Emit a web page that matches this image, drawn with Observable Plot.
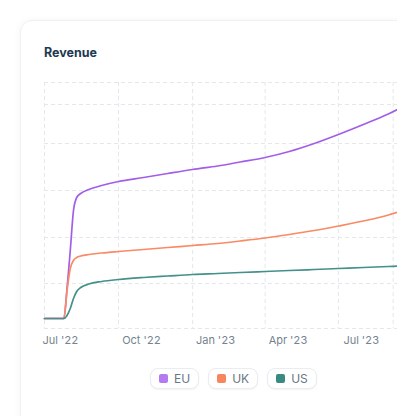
<!DOCTYPE html>
<html>
<head>
<meta charset="utf-8">
<script src="https://cdn.jsdelivr.net/npm/d3@7"></script>
<script src="https://cdn.jsdelivr.net/npm/@observablehq/plot@0.6"></script>
<style>
  html, body { margin: 0; padding: 0; background: #fff; overflow: hidden; width: 397px; height: 416px; }
  body { font-family: Inter, "Noto Sans", sans-serif; position: relative; }
  .card { position: absolute; left: 20px; top: 20px; width: 440px; height: 470px; background: #fff;
          border: 1px solid #f0f1f3; border-radius: 12px; box-shadow: 0 1px 8px rgba(0,0,0,0.05); }
  .title { position: absolute; left: 44px; top: 45px; font-size: 12.5px; font-weight: 700; color: #1e3a52; }
  #chart { position: absolute; left: 0; top: 70px; width: 440px; height: 288px; }
  #chart svg { max-width: none !important; }
  .legend { position: absolute; left: 150px; top: 368px; display: flex; gap: 9px; }
  .pill { height: 19px; display: flex; align-items: center; gap: 6px; padding: 0 8px; border: 1px solid #e9ecf0;
          border-radius: 8px; box-shadow: 0 1px 2px rgba(0,0,0,0.05); font-size: 12px; color: #6a7685; background: #fff; }
  .sw { width: 9px; height: 9px; border-radius: 2px; }
</style>
</head>
<body>
<div class="card"></div>
<div class="title">Revenue</div>
<div id="chart"></div>
<div class="legend" id="legend"></div>
<script>
const dates = ["2022-07-01","2022-07-15","2022-07-25","2022-07-29","2022-08-02","2022-08-06","2022-08-10","2022-08-15","2022-08-25","2022-09-10","2022-10-01","2022-11-01","2022-12-01","2023-01-01","2023-02-01","2023-03-01","2023-04-01","2023-05-01","2023-06-01","2023-07-01","2023-08-01","2023-09-01","2023-09-15"];
const euValues = [10,10,10,40,78,118,131,135,139,143,147,151,155,159,162.5,166.5,171,177,185,194,204,214.5,220];
const ukValues = [10,10,10,38,60,68,71,72.5,74,75.5,77,79,81,83,85,87.5,90.5,94,98,102.5,107.5,113.5,117];
const usValues = [10,10,10,13,20,30,37,41,44.5,47,49,51,52.5,54,55,56,57,58,59,60,61,62,62.5];
const seriesNames = ["EU","UK","US"];
const seriesColors = ["#a35ee8","#fa8a64","#43918a"];
const swatchColors = ["#b47af0","#f7855f","#3a8a82"];
const tickDates = ["2022-07-01","2022-10-01","2023-01-01","2023-04-01","2023-07-01"];
const tickLabels = ["Jul '22","Oct '22","Jan '23","Apr '23","Jul '23"];
const gridDates = ["2022-07-01","2022-10-01","2023-01-01","2023-04-01","2023-07-01","2023-09-07"];
const yGrid = [0,45,91,138,185,224,246];

const parse = d3.utcParse("%Y-%m-%d");
const valueSets = [euValues, ukValues, usValues];
const rows = [];
seriesNames.forEach((s, i) => dates.forEach((d, j) => rows.push({date: parse(d), value: valueSets[i][j], region: s})));
const ticks = tickDates.map(parse);
const fmt = new Map(ticks.map((t, i) => [+t, tickLabels[i]]));
const grid = {stroke: "#e4e7eb", strokeDasharray: "4,3", strokeWidth: 1};

const chart = Plot.plot({
  width: 440, height: 288,
  marginLeft: 44, marginRight: 24, marginTop: 12, marginBottom: 30,
  style: {fontFamily: "Inter, sans-serif", fontSize: "11px", color: "#74838f", background: "transparent", overflow: "visible", maxWidth: "none"},
  x: {type: "utc", domain: [parse("2022-07-01"), parse("2023-10-06")]},
  y: {domain: [0, 246]},
  color: {domain: seriesNames, range: seriesColors},
  marks: [
    Plot.ruleY(yGrid, grid),
    Plot.ruleX(gridDates.map(parse), grid),
    Plot.axisX(ticks.slice(1), {tickSize: 0, tickPadding: 8, dx: 23, tickFormat: d => fmt.get(+d), label: null, fill: "#74838f"}),
    Plot.axisX(ticks.slice(0, 1), {tickSize: 0, tickPadding: 8, dx: 16, tickFormat: d => fmt.get(+d), label: null, fill: "#74838f"}),
    Plot.axisY({ticks: [], label: null, tickSize: 0}),
    Plot.line(rows, {x: "date", y: "value", stroke: "region", z: "region", strokeWidth: 1.7, curve: "monotone-x"})
  ]
});
document.getElementById("chart").append(chart);

const legend = document.getElementById("legend");
seriesNames.forEach((s, i) => {
  const p = document.createElement("div");
  p.className = "pill";
  p.innerHTML = `<span class="sw" style="background:${swatchColors[i]}"></span><span>${s}</span>`;
  legend.append(p);
});
</script>
</body>
</html>
